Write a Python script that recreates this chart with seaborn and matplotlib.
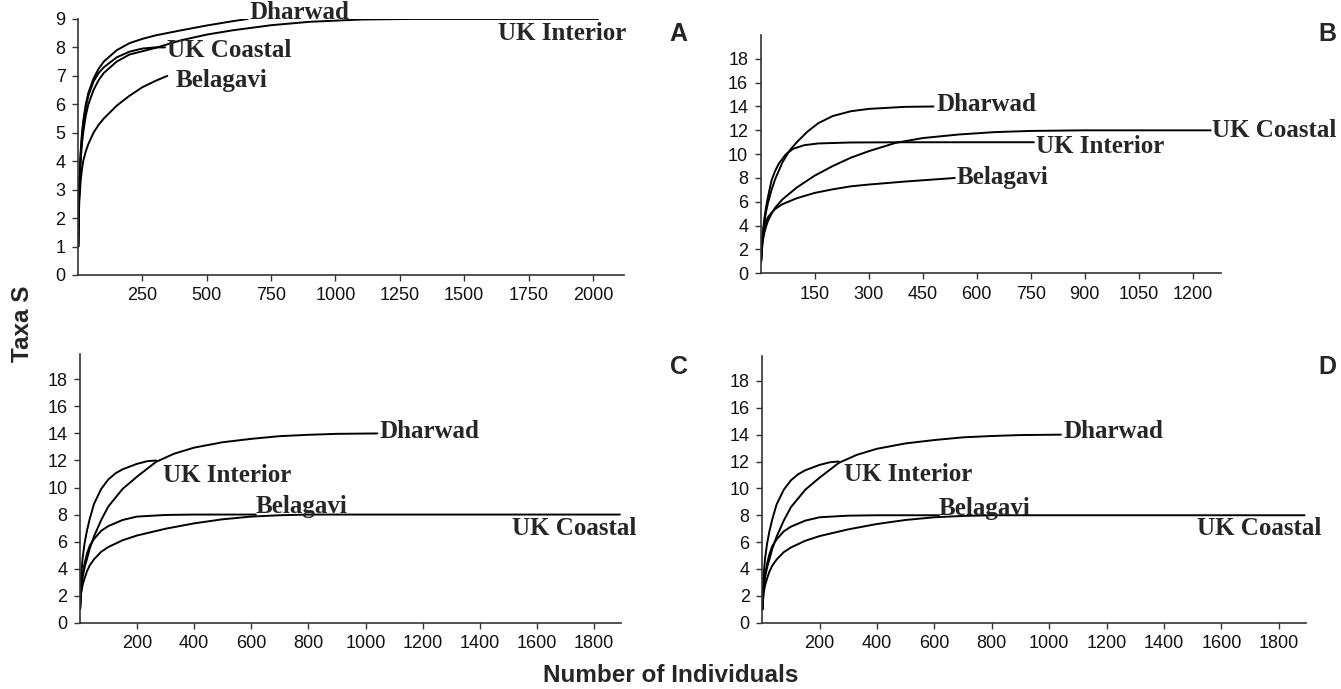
import matplotlib
matplotlib.use("Agg")
import matplotlib.pyplot as plt
import pandas as pd
import seaborn as sns

# ---- panel A ----
a_dharwad_x = [1, 3, 5, 10, 15, 20, 30, 40, 60, 80, 100, 150, 200, 250, 300, 400, 500, 600, 659]
a_dharwad_y = [1, 2.4, 3.2, 4.3, 4.95, 5.4, 6.0, 6.4, 6.9, 7.25, 7.5, 7.9, 8.15, 8.3, 8.42, 8.6, 8.77, 8.92, 9.0]
a_interior_x = [1, 3, 5, 10, 15, 20, 30, 40, 60, 80, 100, 150, 200, 300, 400, 500, 600, 750, 900, 1100, 1300, 2020]
a_interior_y = [1, 2.3, 3.0, 4.0, 4.6, 5.0, 5.6, 6.0, 6.5, 6.85, 7.1, 7.5, 7.75, 7.98, 8.25, 8.45, 8.6, 8.78, 8.9, 8.98, 9.0, 9.0]
a_coastal_x = [1, 3, 5, 10, 15, 20, 30, 40, 60, 80, 100, 150, 200, 250, 300, 338]
a_coastal_y = [1, 2.35, 3.1, 4.2, 4.85, 5.3, 5.9, 6.3, 6.8, 7.1, 7.3, 7.65, 7.85, 7.96, 8.0, 8.0]
a_belagavi_x = [1, 3, 5, 10, 15, 20, 30, 40, 60, 80, 100, 150, 200, 250, 300, 347]
a_belagavi_y = [1, 2.1, 2.6, 3.3, 3.7, 4.0, 4.35, 4.6, 5.0, 5.28, 5.5, 5.95, 6.3, 6.6, 6.82, 7.0]

# ---- panel B ----
b_dharwad_x = [1, 5, 10, 15, 20, 30, 40, 60, 80, 100, 130, 160, 200, 250, 300, 400, 480]
b_dharwad_y = [1, 3.0, 4.3, 5.2, 5.9, 7.0, 7.9, 9.3, 10.3, 11.0, 11.9, 12.6, 13.2, 13.6, 13.8, 13.97, 14.0]
b_interior_x = [1, 5, 10, 15, 20, 30, 40, 50, 70, 90, 120, 160, 250, 400, 759]
b_interior_y = [1, 3.2, 4.6, 5.6, 6.4, 7.8, 8.6, 9.2, 10.0, 10.45, 10.75, 10.9, 10.98, 11.0, 11.0]
b_coastal_x = [1, 5, 10, 15, 20, 30, 40, 60, 80, 100, 150, 200, 250, 300, 375, 450, 550, 650, 750, 900, 1250]
b_coastal_y = [1, 2.6, 3.4, 3.95, 4.4, 5.0, 5.5, 6.2, 6.7, 7.2, 8.2, 9.0, 9.7, 10.25, 10.95, 11.35, 11.65, 11.85, 11.95, 12.0, 12.0]
b_belagavi_x = [1, 5, 10, 15, 20, 30, 40, 60, 100, 150, 200, 250, 300, 400, 539]
b_belagavi_y = [1, 2.9, 3.9, 4.4, 4.7, 5.1, 5.4, 5.8, 6.3, 6.75, 7.05, 7.3, 7.45, 7.7, 8.0]

# ---- panels C and D (same curves) ----
c_dharwad_x = [1, 5, 10, 18, 25, 35, 50, 75, 100, 150, 200, 267, 330, 400, 500, 600, 700, 800, 900, 1041]
c_dharwad_y = [1, 2.5, 3.4, 4.2, 4.7, 5.5, 6.4, 7.6, 8.6, 9.9, 10.8, 11.9, 12.5, 12.95, 13.35, 13.6, 13.8, 13.9, 13.97, 14.0]
c_interior_x = [1, 4, 10, 17, 25, 35, 50, 75, 100, 125, 150, 200, 237, 267]
c_interior_y = [1, 3.3, 4.8, 5.9, 6.8, 7.7, 8.8, 9.9, 10.6, 11.05, 11.35, 11.75, 11.95, 12.0]
c_belagavi_x = [1, 4, 10, 17, 25, 35, 50, 75, 100, 150, 200, 300, 400, 616]
c_belagavi_y = [1, 2.7, 3.6, 4.4, 5.1, 5.7, 6.2, 6.8, 7.15, 7.6, 7.85, 7.97, 8.0, 8.0]
c_coastal_x = [1, 4, 10, 17, 25, 35, 50, 75, 100, 150, 200, 300, 400, 500, 600, 700, 800, 1890]
c_coastal_y = [1, 2.1, 2.8, 3.3, 3.8, 4.25, 4.7, 5.25, 5.6, 6.1, 6.45, 6.95, 7.35, 7.65, 7.85, 7.95, 8.0, 8.0]

a_xticks = [250, 500, 750, 1000, 1250, 1500, 1750, 2000]
b_xticks = [150, 300, 450, 600, 750, 900, 1050, 1200]
cd_xticks = [200, 400, 600, 800, 1000, 1200, 1400, 1600, 1800]
a_yticks = list(range(0, 10))
bcd_yticks = list(range(0, 20, 2))

panels = [
    {
        "letter": "A", "rect": [0.0582, 0.6009, 0.407, 0.3716],
        "xlim": (0, 2120), "ylim": (0, 9), "xticks": a_xticks, "yticks": a_yticks,
        "curves": [(a_dharwad_x, a_dharwad_y), (a_interior_x, a_interior_y),
                   (a_coastal_x, a_coastal_y), (a_belagavi_x, a_belagavi_y)],
        "labels": [("Dharwad", 665, 9.22), ("UK Interior", 1630, 8.5),
                   ("UK Coastal", 346, 7.9), ("Belagavi", 378, 6.85)],
        "letter_pos": (0.506, 0.9507),
    },
    {
        "letter": "B", "rect": [0.5673, 0.6033, 0.343, 0.3459],
        "xlim": (0, 1278), "ylim": (0, 20), "xticks": b_xticks, "yticks": bcd_yticks,
        "curves": [(b_dharwad_x, b_dharwad_y), (b_interior_x, b_interior_y),
                   (b_coastal_x, b_coastal_y), (b_belagavi_x, b_belagavi_y)],
        "labels": [("Dharwad", 487, 14.2), ("UK Coastal", 1254, 11.97),
                   ("UK Interior", 765, 10.65), ("Belagavi", 545, 8.0)],
        "letter_pos": (0.9895, 0.9507),
    },
    {
        "letter": "C", "rect": [0.0595, 0.0962, 0.4036, 0.3895],
        "xlim": (0, 1894), "ylim": (0, 19.85), "xticks": cd_xticks, "yticks": bcd_yticks,
        "curves": [(c_dharwad_x, c_dharwad_y), (c_interior_x, c_interior_y),
                   (c_belagavi_x, c_belagavi_y), (c_coastal_x, c_coastal_y)],
        "labels": [("Dharwad", 1049, 14.18), ("UK Interior", 290, 10.9),
                   ("Belagavi", 616, 8.6), ("UK Coastal", 1512, 7.0)],
        "letter_pos": (0.506, 0.467),
    },
    {
        "letter": "D", "rect": [0.5684, 0.0962, 0.4057, 0.387],
        "xlim": (0, 1896), "ylim": (0, 19.85), "xticks": cd_xticks, "yticks": bcd_yticks,
        "curves": [(c_dharwad_x, c_dharwad_y), (c_interior_x, c_interior_y),
                   (c_belagavi_x, c_belagavi_y), (c_coastal_x, c_coastal_y)],
        "labels": [("Dharwad", 1049, 14.2), ("UK Interior", 286, 11.0),
                   ("Belagavi", 614, 8.5), ("UK Coastal", 1515, 7.05)],
        "letter_pos": (0.9895, 0.467),
    },
]

sns.set_theme(style="ticks")
plt.rcParams["font.family"] = ["Liberation Sans", "DejaVu Sans"]

fig = plt.figure(figsize=(13.41, 6.89), dpi=100)
fig.patch.set_facecolor("white")

for p in panels:
    ax = fig.add_axes(p["rect"])
    for cx, cy in p["curves"]:
        df = pd.DataFrame({"n": cx, "taxa": cy})
        sns.lineplot(data=df, x="n", y="taxa", ax=ax, color="black", lw=1.4,
                     estimator=None, sort=False)
    ax.set_xlim(*p["xlim"])
    ax.set_ylim(*p["ylim"])
    ax.set_xticks(p["xticks"])
    ax.set_yticks(p["yticks"])
    ax.set_xlabel("")
    ax.set_ylabel("")
    ax.tick_params(labelsize=13, length=4, width=1, color="#333333", labelcolor="#111111", pad=5)
    for s in ["top", "right"]:
        ax.spines[s].set_visible(False)
    for s in ["left", "bottom"]:
        ax.spines[s].set_linewidth(1.2)
        ax.spines[s].set_color("#333333")
    ax.set_facecolor("white")
    for text, tx, ty in p["labels"]:
        ax.text(tx, ty, text, family="Liberation Serif", fontweight="bold", fontsize=18,
                ha="left", va="center", clip_on=False)
    fig.text(p["letter_pos"][0], p["letter_pos"][1], p["letter"], fontsize=18,
             fontweight="bold", ha="center", va="center")

fig.text(0.0165, 0.53, "Taxa S", rotation=90, fontsize=17.5, fontweight="bold",
         ha="center", va="center")
fig.text(0.5, 0.02, "Number of Individuals", fontsize=17.5, fontweight="bold",
         ha="center", va="center")

fig.savefig("out.png", dpi=100, facecolor="white")
